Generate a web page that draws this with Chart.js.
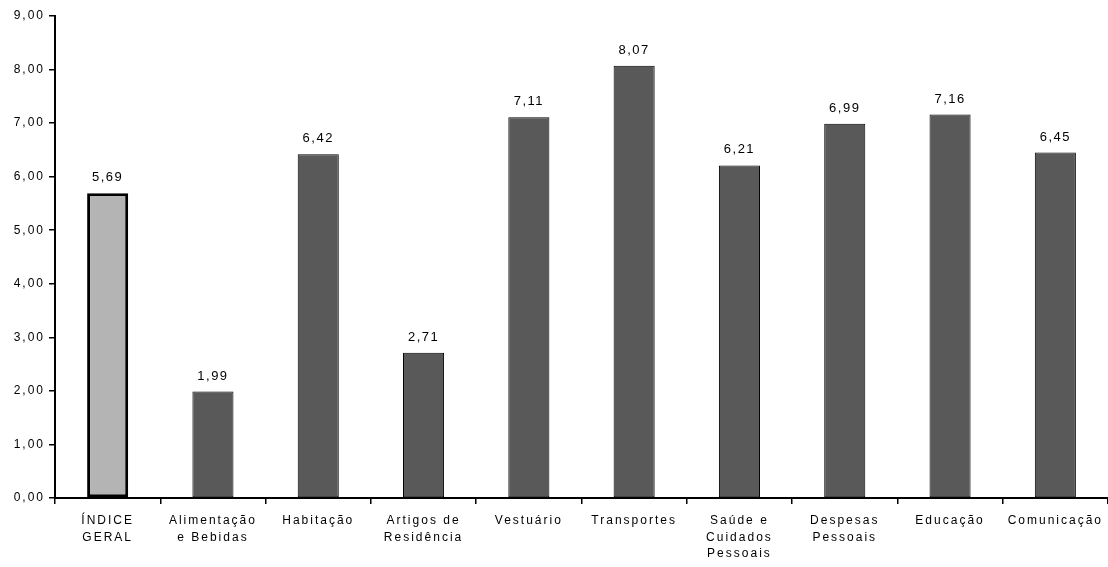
<!DOCTYPE html>
<html>
<head>
<meta charset="utf-8">
<script src="https://cdn.jsdelivr.net/npm/chart.js@4/dist/chart.umd.min.js"></script>
<style>
html,body{margin:0;padding:0;background:#fff;}
#wrap{width:1108px;height:567px;position:relative;}
</style>
</head>
<body>
<div id="wrap"><canvas id="c"></canvas></div>
<script>
const categories = [
  ["ÍNDICE","GERAL"],
  ["Alimentação","e Bebidas"],
  "Habitação",
  ["Artigos de","Residência"],
  "Vestuário",
  "Transportes",
  ["Saúde e","Cuidados","Pessoais"],
  ["Despesas","Pessoais"],
  "Educação",
  "Comunicação"
];
const values = [5.69, 1.99, 6.42, 2.71, 7.11, 8.07, 6.21, 6.99, 7.16, 6.45];
const yMin = 0, yMax = 9, yStep = 1;

const fmt = v => v.toFixed(2).replace('.', ',');
const SPACING = '2px';
const FONT = {family: "'Liberation Sans', Arial, sans-serif", size: 12, lineHeight: 1.4};

const spacingPlugin = {
  id: 'spacing',
  beforeLayout(chart){ chart.ctx.letterSpacing = SPACING; },
  beforeDraw(chart){ chart.ctx.letterSpacing = SPACING; }
};

const labelPlugin = {
  id: 'vlabels',
  afterDatasetsDraw(chart){
    const ctx = chart.ctx;
    const meta = chart.getDatasetMeta(0);
    ctx.save();
    ctx.letterSpacing = '1.5px';
    ctx.font = "13px 'Liberation Sans', Arial, sans-serif";
    ctx.fillStyle = '#000';
    ctx.textAlign = 'center';
    ctx.textBaseline = 'bottom';
    meta.data.forEach((bar, i) => {
      ctx.fillText(fmt(values[i]), bar.x, bar.y - 9);
    });
    ctx.restore();
  }
};

new Chart(document.getElementById('c'), {
  type: 'bar',
  data: {
    labels: categories,
    datasets: [{
      data: values,
      backgroundColor: values.map((v,i) => i === 0 ? '#b4b4b4' : '#595959'),
      borderColor: '#000',
      borderWidth: values.map((v,i) => i === 0 ? 3 : 1),
      borderSkipped: false,
      barPercentage: 0.39,
      categoryPercentage: 1
    }]
  },
  options: {
    responsive: true,
    maintainAspectRatio: false,
    animation: false,
    layout: {padding: {top: 16, right: 0, left: 0, bottom: 0}},
    plugins: {legend: {display: false}, tooltip: {enabled: false}},
    scales: {
      x: {
        offset: true,
        afterFit(scale){ scale.height = 69; scale.paddingRight = 0; scale.paddingLeft = 0; },
        grid: {display: true, drawOnChartArea: false, offset: true, color: '#000', tickLength: 6, lineWidth: 1.5},
        border: {display: true, color: '#000', width: 2},
        ticks: {color: '#000', font: FONT, maxRotation: 0, autoSkip: false, padding: 8}
      },
      y: {
        min: yMin, max: yMax,
        afterFit(scale){ scale.width = 55; },
        grid: {display: true, drawOnChartArea: false, color: '#000', tickLength: 6, lineWidth: 1.5},
        border: {display: true, color: '#000', width: 2},
        ticks: {stepSize: yStep, color: '#000', font: {family: FONT.family, size: 12}, padding: 4, callback: v => fmt(v)}
      }
    }
  },
  plugins: [spacingPlugin, labelPlugin]
});
</script>
</body>
</html>
